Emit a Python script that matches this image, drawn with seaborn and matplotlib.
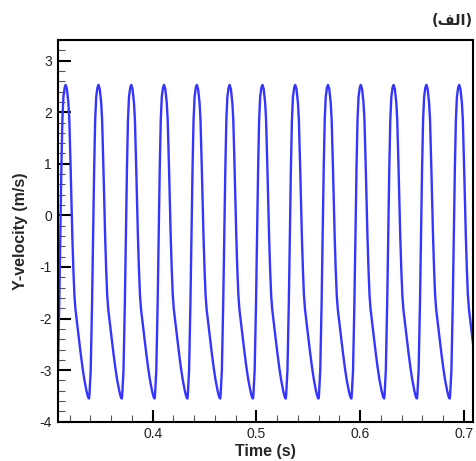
import numpy as np
import pandas as pd
import matplotlib
matplotlib.use("Agg")
import matplotlib.pyplot as plt
import seaborn as sns
from matplotlib.ticker import MultipleLocator

# ---- data ----
peak_times = [0.3162, 0.3478, 0.3794, 0.4110, 0.4426, 0.4742, 0.5058,
              0.5374, 0.5690, 0.6006, 0.6322, 0.6638, 0.6954]
# one oscillation cycle, offsets relative to each peak (s) and values (m/s)
cycle_offsets = [-0.0091, -0.0087, -0.0075, -0.0062, -0.0052, -0.0042, -0.0032,
                 -0.0022, -0.0010, 0.0, 0.0012, 0.0026, 0.0035, 0.0048, 0.0064,
                 0.0074, 0.0084, 0.0094, 0.0106, 0.0125, 0.0144, 0.0162, 0.0180,
                 0.0200, 0.0212, 0.0220]
cycle_values = [-3.55, -3.47, -3.00, -1.70, -0.41, 0.88, 1.85,
                2.30, 2.48, 2.53, 2.45, 2.18, 1.85, 0.88, -0.41,
                -1.05, -1.55, -1.82, -2.03, -2.35, -2.67, -2.95, -3.19,
                -3.40, -3.50, -3.54]
x_ticks = [0.4, 0.5, 0.6, 0.7]
x_tick_labels = ["0.4", "0.5", "0.6", "0.7"]
y_ticks = [-4, -3, -2, -1, 0, 1, 2, 3]
y_tick_labels = ["-4", "-3", "-2", "-1", "0", "1", "2", "3"]
x_label = "Time (s)"
y_label = "Y-velocity (m/s)"
panel_label = "(\uFED2\uFEDF\u0627)"  # (الف) pre-shaped, visual order

time = (np.array(peak_times)[:, None] + np.array(cycle_offsets)[None, :]).ravel()
vel = np.tile(np.array(cycle_values), len(peak_times))
df = pd.DataFrame({"t": time, "v": vel})

sns.set_style("ticks")
plt.rcParams["font.family"] = ["Liberation Sans", "DejaVu Sans"]
plt.rcParams["axes.unicode_minus"] = False

fig = plt.figure(figsize=(4.76, 4.61), dpi=100)
ax = fig.add_axes([0.1208, 0.0852, 0.8729, 0.8280])

sns.lineplot(data=df, x="t", y="v", ax=ax, color="#3535ff", lw=1.7,
             estimator=None, sort=False)

ax.set_xlim(0.3083, 0.7087)
ax.set_ylim(-4, 3.4)
ax.set_xticks(x_ticks)
ax.set_xticklabels(x_tick_labels)
ax.set_yticks(y_ticks)
ax.set_yticklabels(y_tick_labels)
ax.xaxis.set_minor_locator(MultipleLocator(0.02))
ax.yaxis.set_minor_locator(MultipleLocator(0.2))
ax.tick_params(which="major", direction="in", length=9, width=1.5,
               labelsize=10, colors="black", labelcolor="#222222", pad=4)
ax.tick_params(which="minor", direction="in", length=5, width=0.8, colors="#555555")
ax.tick_params(top=False, right=False, which="both")

for s in ax.spines.values():
    s.set_linewidth(1.5)
    s.set_color("black")
    s.set_visible(True)

ax.set_xlabel(x_label, fontsize=11.5, fontweight="bold", labelpad=2)
ax.set_ylabel(y_label, fontsize=11.5, fontweight="bold", labelpad=8)

fig.text(0.993, 0.955, panel_label, ha="right", va="center", fontsize=10.5,
         fontweight="bold", family=["DejaVu Sans"])

fig.savefig("out.png", dpi=100)
